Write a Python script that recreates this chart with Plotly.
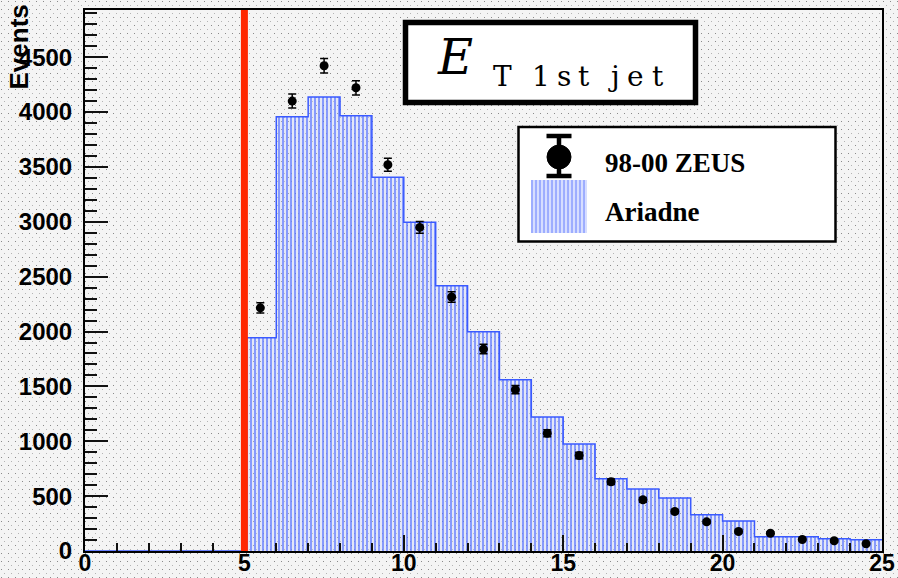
import base64
import plotly.graph_objects as go

# ---------------------------------------------------------------------------
# Transverse energy of the leading jet, 1 GeV bins on [0, 25]
# ---------------------------------------------------------------------------
bin_edges = list(range(0, 26))
bin_centers = [e + 0.5 for e in range(0, 25)]

# Ariadne MC prediction (bins below the 5 GeV cut are empty)
ariadne_events = [0, 0, 0, 0, 0,
                  1943, 3957, 4137, 3966, 3406, 2995, 2418, 1998, 1560, 1220,
                  975, 658, 566, 484, 331, 273, 130, 130, 111, 102]

# 98-00 ZEUS data
zeus_et = [5.5, 6.5, 7.5, 8.5, 9.5, 10.5, 11.5, 12.5, 13.5, 14.5,
           15.5, 16.5, 17.5, 18.5, 19.5, 20.5, 21.5, 22.5, 23.5, 24.5]
zeus_events = [2216, 4100, 4422, 4221, 3520, 2949, 2315, 1840, 1470, 1073,
               870, 630, 466, 360, 266, 178, 162, 105, 93, 66]
zeus_errors = [47, 64, 67, 65, 59, 54, 48, 43, 38, 33,
               30, 25, 22, 19, 16, 13, 13, 10, 10, 8]

et_cut = 5.0
x_ticks = [0, 5, 10, 15, 20, 25]
y_max = 4930

# ---------------------------------------------------------------------------
# Canvas geometry
# ---------------------------------------------------------------------------
W, H = 898, 578
ML, MR, MT, MB = 85, 16, 10, 27
PW, PH = W - ML - MR, H - MT - MB


def px(x):
    """Horizontal pixel -> paper coordinate."""
    return (x - ML) / PW


def py(y):
    """Vertical pixel (from top) -> paper coordinate."""
    return (H - MB - y) / PH


BG = "#f4f4f4"
HATCH_DARK = "#3d5cff"
HATCH_LIGHT = "#aebcff"
SANS = "Liberation Sans, Arial, sans-serif"
SERIF = "Liberation Serif, Times New Roman, serif"
TITLE_SERIF = "DejaVu Serif, Liberation Serif, serif"

# stippled canvas fill (light gray with sparse dots)
stipple_svg = (
    f'<svg xmlns="http://www.w3.org/2000/svg" width="{W}" height="{H}">'
    '<defs><pattern id="dots" width="7" height="8" patternUnits="userSpaceOnUse">'
    '<rect x="1" y="1" width="1" height="1" fill="#8a8a8a"/>'
    '<rect x="4" y="5" width="1" height="1" fill="#b4b4b4"/>'
    '</pattern></defs>'
    f'<rect width="{W}" height="{H}" fill="{BG}"/>'
    f'<rect width="{W}" height="{H}" fill="url(#dots)"/>'
    '</svg>'
)
stipple_uri = ("data:image/svg+xml;base64,"
               + base64.b64encode(stipple_svg.encode()).decode())

fig = go.Figure()

# Ariadne: vertically hatched histogram
fig.add_trace(go.Bar(
    x=bin_centers, y=ariadne_events, width=1,
    marker=dict(color="rgba(0,0,0,0)", line=dict(width=0),
                pattern=dict(shape="|", fgcolor=HATCH_DARK,
                             bgcolor="rgba(190,202,255,0.3)",
                             size=4, solidity=0.28, fillmode="replace")),
    hoverinfo="skip",
))

# histogram outline
fig.add_trace(go.Scatter(
    x=bin_edges, y=ariadne_events + [ariadne_events[-1]],
    mode="lines", line=dict(shape="hv", color="#3a5aff", width=1.5),
    hoverinfo="skip",
))

# ZEUS data points with statistical errors
fig.add_trace(go.Scatter(
    x=zeus_et, y=zeus_events, mode="markers",
    marker=dict(color="black", size=9),
    error_y=dict(type="data", array=zeus_errors, color="black",
                 thickness=1.5, width=4),
))

shapes = []

# E_T cut
shapes.append(dict(type="line", xref="x", yref="paper", x0=et_cut, x1=et_cut,
                   y0=0, y1=1, line=dict(color="#ff2800", width=7),
                   layer="above"))

# title box
shapes.append(dict(type="rect", xref="paper", yref="paper",
                   x0=px(405.5), x1=px(695.5), y0=py(102.5), y1=py(22.5),
                   line=dict(color="black", width=5.5), fillcolor="white",
                   layer="above"))

# legend box
shapes.append(dict(type="rect", xref="paper", yref="paper",
                   x0=px(518.5), x1=px(835.5), y0=py(241.5), y1=py(127),
                   line=dict(color="black", width=2.5), fillcolor="white",
                   layer="above"))

# legend key: data marker with error bar
kx = 559
shapes.append(dict(type="line", xref="paper", yref="paper",
                   x0=px(kx), x1=px(kx), y0=py(178), y1=py(135),
                   line=dict(color="black", width=4.5), layer="above"))
for cy in (136, 176):
    shapes.append(dict(type="line", xref="paper", yref="paper",
                       x0=px(kx - 12.5), x1=px(kx + 12.5), y0=py(cy), y1=py(cy),
                       line=dict(color="black", width=4.5), layer="above"))
shapes.append(dict(type="circle", xref="paper", yref="paper",
                   x0=px(kx - 12), x1=px(kx + 12), y0=py(169), y1=py(145),
                   line=dict(color="black", width=1), fillcolor="black",
                   layer="above"))

# legend key: hatched box
for i, hx in enumerate(range(532, 588, 2)):
    shapes.append(dict(type="line", xref="paper", yref="paper",
                       x0=px(hx), x1=px(hx), y0=py(233), y1=py(180),
                       line=dict(color=HATCH_DARK if i % 2 == 0 else HATCH_LIGHT,
                                 width=1),
                       layer="above"))

annotations = []

# y-axis title at the top of the axis
annotations.append(dict(xref="paper", yref="paper", x=px(18), y=py(3),
                        xanchor="center", yanchor="top", text="Events",
                        textangle=-90, showarrow=False,
                        font=dict(family=SANS, size=26, color="black",
                                  weight="bold")))

# title: E_T 1st jet
annotations.append(dict(xref="paper", yref="paper", x=px(455), y=py(57),
                        xanchor="center", yanchor="middle", text="E",
                        showarrow=False,
                        font=dict(family=TITLE_SERIF, size=48, color="black",
                                  style="italic")))
subscript = [("T", 502.5), ("1", 540.5), ("s", 564), ("t", 584),
             ("j", 614), ("e", 635), ("t", 658)]
for ch, cx in subscript:
    annotations.append(dict(xref="paper", yref="paper", x=px(cx), y=py(76),
                            xanchor="center", yanchor="middle", text=ch,
                            showarrow=False,
                            font=dict(family=TITLE_SERIF, size=28,
                                      color="black")))

# legend texts
for label, cy in (("98-00 ZEUS", 163), ("Ariadne", 212)):
    annotations.append(dict(xref="paper", yref="paper", x=px(603), y=py(cy),
                            xanchor="left", yanchor="middle", text=label,
                            showarrow=False,
                            font=dict(family=SERIF, size=27, color="black",
                                      weight="bold")))

tick_font = dict(family=SANS, size=24, color="black", weight="bold")

fig.update_layout(
    width=W, height=H, autosize=False,
    margin=dict(l=ML, r=MR, t=MT, b=MB, pad=0),
    paper_bgcolor=BG, plot_bgcolor="rgba(0,0,0,0)",
    images=[dict(source=stipple_uri, xref="paper", yref="paper",
                 x=px(0), y=py(0), sizex=W / PW, sizey=H / PH,
                 xanchor="left", yanchor="top", sizing="stretch",
                 layer="below")],
    showlegend=False, bargap=0,
    shapes=shapes, annotations=annotations,
    xaxis=dict(range=[0, 25], tickmode="array", tickvals=x_ticks,
               ticks="inside", ticklen=16, tickwidth=2, tickcolor="#111",
               minor=dict(tick0=0, dtick=1, ticks="inside", ticklen=8,
                          tickwidth=1.5, tickcolor="#111"),
               showline=True, linewidth=2, linecolor="black", mirror=True,
               showgrid=False, zeroline=False,
               tickfont=dict(family=SANS, size=23, color="black",
                             weight="bold"),
               ticklabelstandoff=-10, automargin=False),
    yaxis=dict(range=[0, y_max], tick0=0, dtick=500,
               ticks="inside", ticklen=23, tickwidth=2, tickcolor="#111",
               minor=dict(tick0=0, dtick=100, ticks="inside", ticklen=12,
                          tickwidth=1.5, tickcolor="#111"),
               showline=True, linewidth=2, linecolor="black", mirror=True,
               showgrid=False, zeroline=False, tickfont=tick_font,
               ticklabelstandoff=6, automargin=False),
)

fig.write_html("out.html", config={"displayModeBar": False})
